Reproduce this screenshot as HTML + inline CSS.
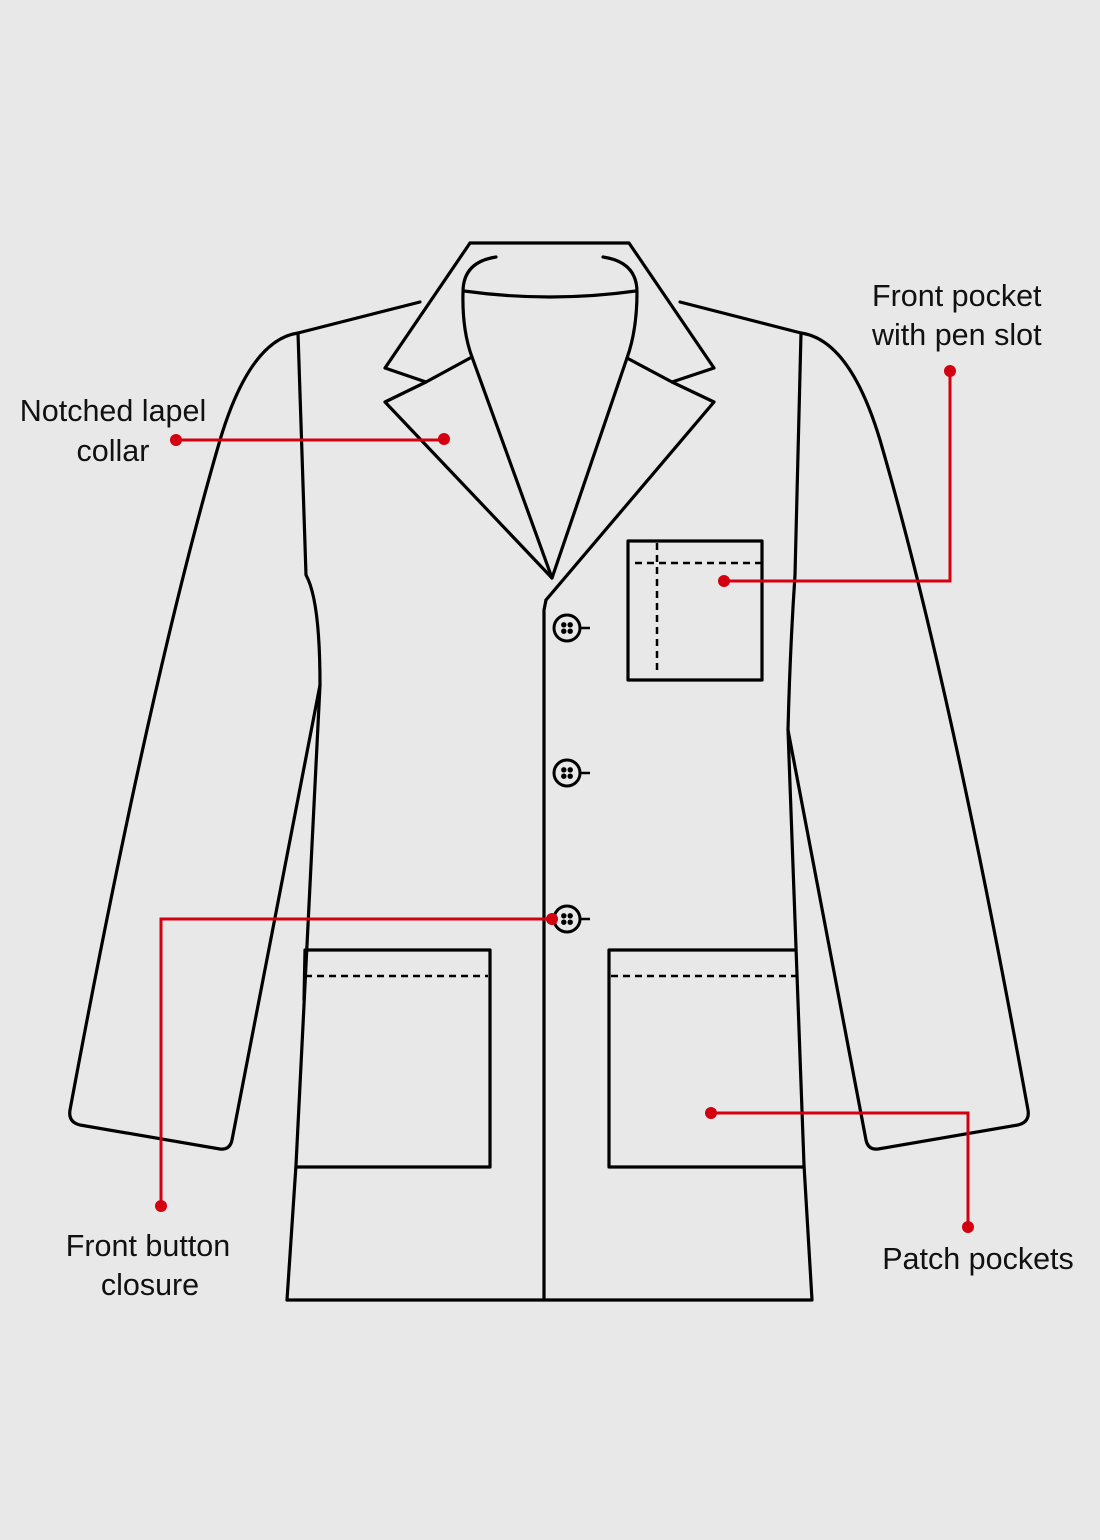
<!DOCTYPE html>
<html><head><meta charset="utf-8"><style>
html,body{margin:0;padding:0;background:#e8e8e8;}
svg{display:block;}
text{font-family:"Liberation Sans",sans-serif;font-size:30.5px;fill:#111;}
</style></head><body>
<svg width="1100" height="1540" viewBox="0 0 1100 1540" xmlns="http://www.w3.org/2000/svg">
<rect width="1100" height="1540" fill="#e8e8e8"/>
<g fill="none" stroke="#000" stroke-width="3.2" stroke-linejoin="round" stroke-linecap="round">
<path d="M470,243 L629,243 L714,368 L672,382 L714,402 L546,600"/>
<path d="M470,243 L385,368 L426,382 L385,402 L552,578"/>
<path d="M426,382 L472,357"/>
<path d="M672,382 L627,358"/>
<path d="M496,257 Q463,262 463,292 Q462,330 472,357 L552,578 L627,358 Q637,330 637,292 Q637,262 603,257"/>
<path d="M464,291 Q550,303 636,291"/>
<path d="M420,302 L298,333 Q302,450 306,575 Q320,600 320,685 L296,1165 L287,1300 L812,1300 L804,1165 L788,730 Q790,650 795,575 Q798,450 801,333 L680,302"/>
<path d="M546,600 L544,610 L544,1300"/>
<path d="M298,333 Q250,340 220,440 Q150,680 70,1110 Q68,1122 80,1125 L220,1149 Q230,1150 232,1140 L320,685"/>
<path d="M801,333 Q850,340 880,440 Q950,680 1028,1110 Q1030,1122 1018,1125 L878,1149 Q868,1150 866,1140 L788,730"/>
<rect x="628" y="541" width="134" height="139"/>
<path d="M296,1167 L490,1167 L490,950 L305,950 L304,1000"/>
<path d="M804,1167 L609,1167 L609,950 L795,950"/>
</g>
<g fill="none" stroke="#000" stroke-width="2.5" stroke-dasharray="7,5">
<path d="M635,563 L762,563"/>
<path d="M657,543 L657,674"/>
<path d="M305,976 L488,976"/>
<path d="M611,976 L797,976"/>
</g>
<g>
<g transform="translate(567,628)"><circle r="13" fill="none" stroke="#000" stroke-width="3"/><line x1="13" y1="0" x2="23" y2="0" stroke="#000" stroke-width="2.5"/><circle cx="-3.2" cy="-3.2" r="2.7"/><circle cx="3.2" cy="-3.2" r="2.7"/><circle cx="-3.2" cy="3.2" r="2.7"/><circle cx="3.2" cy="3.2" r="2.7"/></g>
<g transform="translate(567,773)"><circle r="13" fill="none" stroke="#000" stroke-width="3"/><line x1="13" y1="0" x2="23" y2="0" stroke="#000" stroke-width="2.5"/><circle cx="-3.2" cy="-3.2" r="2.7"/><circle cx="3.2" cy="-3.2" r="2.7"/><circle cx="-3.2" cy="3.2" r="2.7"/><circle cx="3.2" cy="3.2" r="2.7"/></g>
<g transform="translate(567,919)"><circle r="13" fill="none" stroke="#000" stroke-width="3"/><line x1="13" y1="0" x2="23" y2="0" stroke="#000" stroke-width="2.5"/><circle cx="-3.2" cy="-3.2" r="2.7"/><circle cx="3.2" cy="-3.2" r="2.7"/><circle cx="-3.2" cy="3.2" r="2.7"/><circle cx="3.2" cy="3.2" r="2.7"/></g>
</g>
<g stroke="#d40010" stroke-width="3" fill="none">
<path d="M176,440 L444,440"/>
<path d="M950,371 L950,581 L724,581"/>
<path d="M161,1206 L161,919 L552,919"/>
<path d="M711,1113 L968,1113 L968,1227"/>
</g>
<g fill="#d40010">
<circle cx="176" cy="440" r="6"/><circle cx="444" cy="439" r="6"/>
<circle cx="950" cy="371" r="6"/><circle cx="724" cy="581" r="6"/>
<circle cx="161" cy="1206" r="6"/><circle cx="552" cy="919" r="6"/>
<circle cx="711" cy="1113" r="6"/><circle cx="968" cy="1227" r="6"/>
</g>
<text x="113" y="421" text-anchor="middle">Notched lapel</text>
<text x="113" y="461" text-anchor="middle">collar</text>
<text x="872" y="306">Front pocket</text>
<text x="872" y="345">with pen slot</text>
<text x="148" y="1256" text-anchor="middle">Front button</text>
<text x="150" y="1295" text-anchor="middle">closure</text>
<text x="978" y="1269" text-anchor="middle">Patch pockets</text>
</svg>
</body></html>
